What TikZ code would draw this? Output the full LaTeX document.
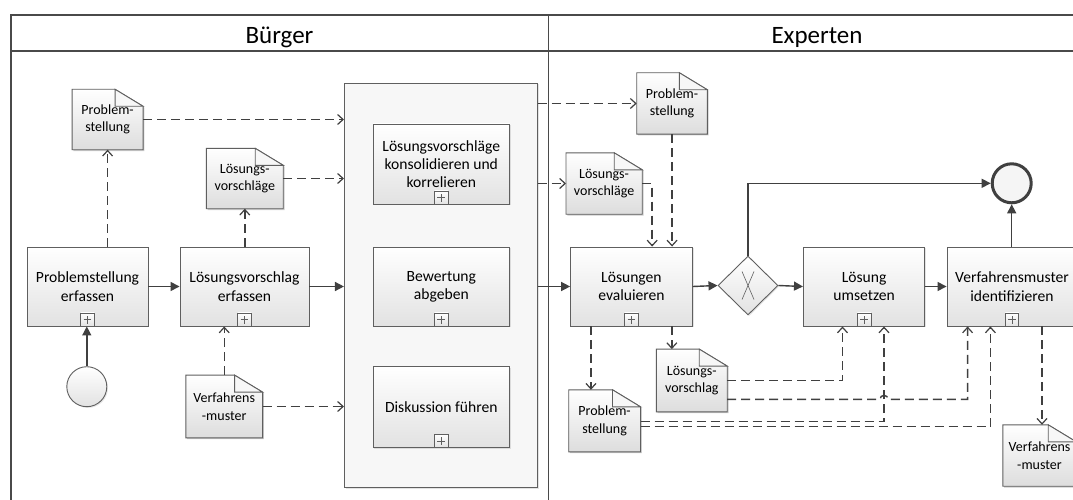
\documentclass[tikz,border=0pt]{standalone}
\usepackage{fontspec}
\setmainfont{Carlito}
\usetikzlibrary{arrows.meta,shapes.geometric,shadows,calc}
\pgfdeclarelayer{bg}
\pgfdeclarelayer{base}
\pgfsetlayers{base,bg,main}
\definecolor{ln}{HTML}{404040}
\definecolor{bd}{HTML}{5F5F5F}
\definecolor{boxb}{HTML}{E2E2E2}
\definecolor{docb}{HTML}{DDDDDD}
\definecolor{grpf}{HTML}{F7F7F7}
\definecolor{lanec}{HTML}{4A4A4A}
\newcommand\bxfont{\fontsize{15.6}{18.3}\selectfont}
\newcommand\dcfont{\fontsize{14}{17.4}\selectfont}
\newcommand\ttlfont{\fontsize{25}{30}\selectfont}
\tikzset{
  task/.style={draw=bd, line width=0.9pt, top color=white, bottom color=boxb,
    minimum height=79pt, inner sep=0pt, align=center, font=\bxfont,
    drop shadow={shadow xshift=1.3pt, shadow yshift=-1.3pt, opacity=0.22}},
  grpbox/.style={draw=bd, line width=0.9pt, fill=grpf, inner sep=0pt,
    drop shadow={shadow xshift=1.3pt, shadow yshift=-1.3pt, opacity=0.22}},
  doc/.style={inner sep=0pt, align=center, font=\dcfont},
  flow/.style={color=ln, line width=1.4pt, -{Triangle[length=9pt,width=9pt]}},
  msg/.style={color=ln, line width=1.4pt, dash pattern=on 9pt off 5pt,
    -{Straight Barb[length=5.5pt,width=10pt,line width=1.2pt]}},
  lane/.style={draw=lanec, line width=1.1pt},
  ttl/.style={font=\ttlfont, inner sep=0pt, anchor=base},
  pm/.style={draw=bd, line width=0.7pt, top color=white, bottom color=boxb},
}
\newcommand\plusmark[1]{%
  \path[pm] ([xshift=-6.75pt]#1.south) rectangle ([xshift=6.75pt,yshift=13.5pt]#1.south);
  \draw[bd, line width=0.7pt] ([yshift=2.8pt]#1.south) -- ([yshift=10.7pt]#1.south);
  \draw[bd, line width=0.7pt] ([xshift=-3.9pt,yshift=6.75pt]#1.south) -- ([xshift=3.9pt,yshift=6.75pt]#1.south);}
\newcommand\docoutline[1]{%
  \begin{pgfonlayer}{bg}
  \fill[black,opacity=0.2] ([shift={(1.3pt,-1.3pt)}]#1.south west) -- ([shift={(1.3pt,-1.3pt)}]#1.north west)
     -- ([shift={(-26.7pt,-1.3pt)}]#1.north east) -- ([shift={(1.3pt,-18.3pt)}]#1.north east)
     -- ([shift={(1.3pt,-1.3pt)}]#1.south east) -- cycle;
  \path[draw=bd, line width=0.9pt, top color=white, bottom color=docb] (#1.south west) -- (#1.north west)
     -- ([xshift=-28pt]#1.north east) -- ([yshift=-17pt]#1.north east) -- (#1.south east) -- cycle;
  \path[draw=bd, line width=0.9pt, fill=gray!6] ([xshift=-28pt]#1.north east)
     -- ([xshift=-28pt,yshift=-17pt]#1.north east) -- ([yshift=-17pt]#1.north east) -- cycle;
  \end{pgfonlayer}}
\begin{document}
\begin{tikzpicture}[x=1pt,y=-1pt]
\useasboundingbox (0,0) rectangle (1073,500);
\clip (0,0) rectangle (1073,500);
\begin{pgfonlayer}{base}
\fill[white] (0,0) rectangle (1073,500);
\end{pgfonlayer}

% lanes
\draw[lane] (11,500) -- (11,15) -- (1073,15);
\draw[lane] (11,51) -- (1073,51);
\draw[lane] (548.5,15) -- (548.5,500);
\node[ttl] (tB) at (279.5,43.3) {Bürger};
\node[ttl] (tE) at (817,43.3) {Experten};

% Buerger lane
\node[grpbox, minimum width=192.8pt, minimum height=404.7pt] (grp) at (440.8,285.4) {};
\node[task, minimum width=136.6pt, minimum height=80pt] (sb1) at (441.3,164) {Lösungsvorschläge\\konsolidieren und\\korrelieren};
\node[task, minimum width=136.6pt] (sb2) at (441.3,286.5) {Bewertung\\abgeben};
\node[task, minimum width=136.6pt, minimum height=81pt] (sb3) at (441.3,406.7) {Diskussion führen};
\node[task, minimum width=121pt] (pe) at (87.5,286.5) {Problemstellung\\erfassen};
\node[task, minimum width=129pt] (le) at (244.5,286.5) {Lösungsvorschlag\\erfassen};
\node[circle, draw=bd, line width=0.9pt, top color=white, bottom color=boxb, minimum size=40pt, inner sep=0pt,
  drop shadow={shadow xshift=1.2pt, shadow yshift=-1.2pt, opacity=0.2}] (st) at (86.8,386.7) {};

\node[doc, minimum width=70.6pt, minimum height=60pt] (dPB) at (107.6,119.5) {Problem-\\stellung};
\node[doc, minimum width=76.4pt, minimum height=60pt] (dLB) at (244.8,178.5) {Lösungs-\\vorschläge};
\node[doc, minimum width=76.4pt, minimum height=62.3pt] (dVB) at (224.2,406.5) {Verfahrens\\-muster};
\docoutline{dPB}\docoutline{dLB}\docoutline{dVB}

% Experten lane
\node[task, minimum width=121.7pt] (lev) at (631.45,286.5) {Lösungen\\evaluieren};
\node[diamond, draw=bd, line width=0.9pt, top color=white, bottom color=boxb, minimum width=60pt, minimum height=59pt, inner sep=0pt,
  drop shadow={shadow xshift=1.2pt, shadow yshift=-1.2pt, opacity=0.2}] (gw) at (748,285.5) {};
\draw[bd, line width=0.6pt] ([shift={(-6pt,14pt)}]gw.center) -- ([shift={(6pt,-14pt)}]gw.center);
\draw[bd, line width=0.6pt] ([shift={(6pt,14pt)}]gw.center) -- ([shift={(-6pt,-14pt)}]gw.center);
\node[task, minimum width=121.4pt] (lu) at (864.1,286.5) {Lösung\\umsetzen};
\node[task, minimum width=130pt] (vi) at (1012,286.5) {Verfahrensmuster\\identifizieren};
\node[circle, draw=ln, line width=3pt, fill=gray!8, minimum size=39pt, inner sep=0pt] (en) at (1011.7,183.3) {};

\node[doc, minimum width=70.3pt, minimum height=61pt] (dPE) at (672.05,103.5) {Problem-\\stellung};
\node[doc, minimum width=75.8pt, minimum height=61pt] (dLE) at (604.1,183.5) {Lösungs-\\vorschläge};
\node[doc, minimum width=71.4pt, minimum height=61.7pt] (dPE2) at (604.6,420.85) {Problem-\\stellung};
\node[doc, minimum width=70.4pt, minimum height=62.4pt] (dLV) at (691.8,380.5) {Lösungs-\\vorschlag};
\node[doc, minimum width=73pt, minimum height=61pt] (dVE) at (1039.5,455.5) {Verfahrens\\-muster};
\docoutline{dPE}\docoutline{dLE}\docoutline{dPE2}\docoutline{dLV}\docoutline{dVE}

% plus markers
\plusmark{pe}\plusmark{le}\plusmark{sb1}\plusmark{sb2}\plusmark{sb3}
\plusmark{lev}\plusmark{lu}\plusmark{vi}

% sequence flows
\draw[flow] (st.north) -- (st |- pe.south);
\draw[flow] (pe.east) -- (le.west);
\draw[flow] (le.east) -- (le.east -| grp.west);
\draw[flow] (lev.west -| grp.east) -- (lev.west);
\draw[flow] (lev.east) -- (gw.west);
\draw[flow] (gw.east) -- (lu.west);
\draw[flow] (lu.east) -- (vi.west);
\draw[flow] (gw.north) |- (en.west);
\draw[flow] (en |- vi.north) -- (en.south);

% data associations, Buerger
\draw[msg] (dPB |- pe.north) -- (dPB.south);
\draw[msg] (dLB |- le.north) -- (dLB.south);
\draw[msg] (dVB.north) -- (dVB |- le.south);
\draw[msg] (dPB.east) -- (dPB -| grp.west);
\draw[msg] (dLB.east) -- (dLB -| grp.west);
\draw[msg] (dVB.east) -- (dVB -| grp.west);

% data associations, Experten
\draw[msg] (dPE -| grp.east) -- (dPE.west);
\draw[msg] (dLE -| grp.east) -- (dLE.west);
\draw[msg] (dLE.east) -| ([xshift=20.7pt]lev.north);
\draw[msg] (dPE.south) -- (dPE.south |- lev.north);
\draw[msg] ([xshift=-40.5pt]lev.south) coordinate (b1) -- (b1 |- dPE2.north);
\draw[msg] ([xshift=40.4pt]lev.south) coordinate (b2) -- (b2 |- dLV.north);
\draw[msg] ([xshift=30pt]vi.south) coordinate (b3) -- (b3 |- dVE.north);

\coordinate (x1) at ([xshift=-21.6pt]lu.south);
\coordinate (x2) at ([xshift=19.9pt]lu.south);
\coordinate (x3) at ([xshift=-44.4pt]vi.south);
\coordinate (x4) at ([xshift=-21.6pt]vi.south);
\draw[msg] (dLV.east) -- (dLV.east -| x1) -- (x1);
\draw[msg] ([yshift=-5.85pt]dPE2.east) coordinate (a4) -- (a4 -| x4) -- (x4);
\draw[msg] ([yshift=-0.85pt]dPE2.east) coordinate (a3) -- (a3 -| x2) -- (x2);
\draw[msg] ([yshift=-18.8pt]dLV.east) coordinate (a2) -- ($(a2 -| x2)+(-4,0)$)
   arc[start angle=180, end angle=0, radius=4pt] -- (a2 -| x3) -- (x3);
\end{tikzpicture}
\end{document}
